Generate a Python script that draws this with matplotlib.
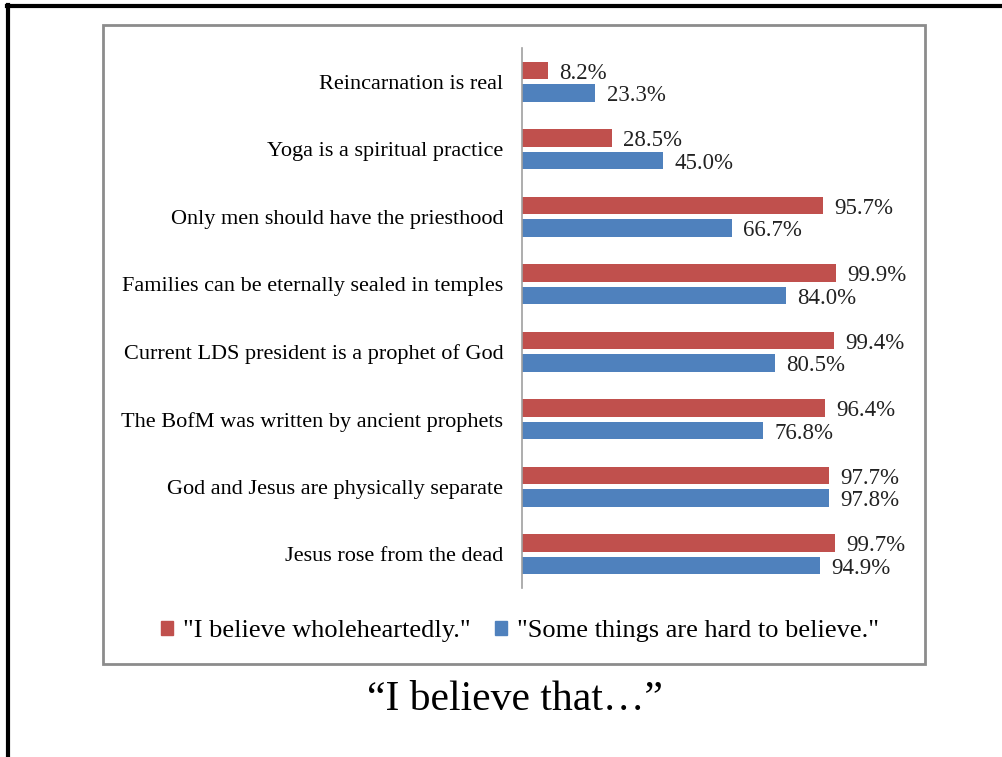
import matplotlib
matplotlib.use("Agg")
import matplotlib.pyplot as plt
from matplotlib.lines import Line2D
from matplotlib.patches import Rectangle
import numpy as np

categories = [
    "Reincarnation is real",
    "Yoga is a spiritual practice",
    "Only men should have the priesthood",
    "Families can be eternally sealed in temples",
    "Current LDS president is a prophet of God",
    "The BofM was written by ancient prophets",
    "God and Jesus are physically separate",
    "Jesus rose from the dead",
]
wholehearted = [8.2, 28.5, 95.7, 99.9, 99.4, 96.4, 97.7, 99.7]
hard_to_believe = [23.3, 45.0, 66.7, 84.0, 80.5, 76.8, 97.8, 94.9]
series_names = ['"I believe wholeheartedly."', '"Some things are hard to believe."']
title = "\u201cI believe that\u2026\u201d"

RED = "#C0504D"
BLUE = "#4F81BD"
FONT = "Liberation Serif"

W, H = 1003, 757
fig = plt.figure(figsize=(W / 100, H / 100), dpi=100)

def fx(px):
    return px / W

def fy(py):
    return 1 - py / H

# outer slide border (top and left)
fig.add_artist(Line2D([fx(7), 1.0], [fy(6), fy(6)], color="black", lw=3))
fig.add_artist(Line2D([fx(8), fx(8)], [fy(5), 0.0], color="black", lw=3))
# chart frame
fig.add_artist(Rectangle((fx(103), fy(664)), fx(925) - fx(103), fy(25) - fy(664),
                         fill=False, edgecolor="#8c8c8c", lw=2))

ax = fig.add_axes([fx(522), fy(588), fx(899) - fx(522), fy(48) - fy(588)])
y = np.arange(len(categories))
h = 0.258
off = 0.165
ax.barh(y - off, wholehearted, height=h, color=RED)
ax.barh(y + off, hard_to_believe, height=h, color=BLUE)
ax.set_xlim(0, 120)
ax.set_ylim(len(categories) - 0.5, -0.5)
for s in ["top", "right", "bottom"]:
    ax.spines[s].set_visible(False)
ax.spines["left"].set_color("#a0a0a0")
ax.spines["left"].set_linewidth(1.2)
ax.set_xticks([])
ax.set_yticks(y)
ax.set_yticklabels(categories, fontsize=16, family=FONT, color="black")
ax.tick_params(axis="y", length=0, pad=13.5)

dy = 0.04
for i in range(len(categories)):
    ax.text(wholehearted[i] + 3.6, i - off + dy, f"{wholehearted[i]:.1f}%", va="center",
            ha="left", fontsize=16.5, family=FONT, color="#222222")
    ax.text(hard_to_believe[i] + 3.6, i + off + dy, f"{hard_to_believe[i]:.1f}%", va="center",
            ha="left", fontsize=16.5, family=FONT, color="#222222")

handles = [Rectangle((0, 0), 1, 1, color=RED), Rectangle((0, 0), 1, 1, color=BLUE)]
fig.legend(handles, series_names, loc="center", bbox_to_anchor=(fx(520), fy(631)),
           ncol=2, frameon=False, prop={"family": FONT, "size": 19},
           handlelength=0.45, handleheight=0.45, handletextpad=0.38, columnspacing=0.9,
           borderpad=0, borderaxespad=0)

fig.text(fx(515), fy(710), title, ha="center", va="baseline", fontsize=30, family=FONT)

fig.savefig("out.png", dpi=100)
